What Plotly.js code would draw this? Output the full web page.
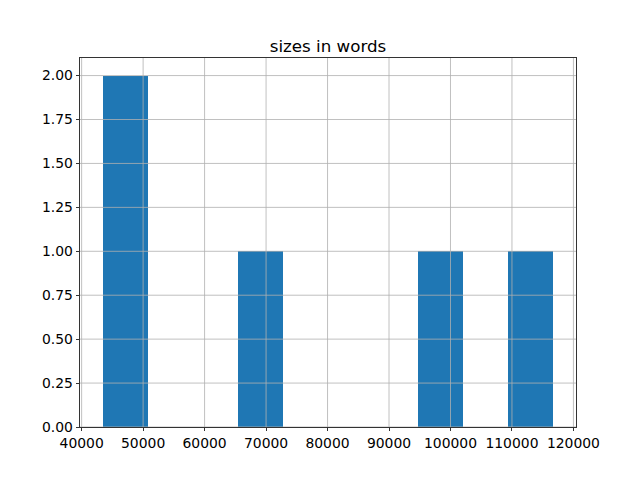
<!DOCTYPE html>
<html>
<head>
<meta charset="utf-8">
<script src="https://cdn.plot.ly/plotly-3.0.1.min.js"></script>
<style>html,body{margin:0;padding:0;background:#fff;}#chart{width:640px;height:480px;}</style>
</head>
<body>
<div id="chart"></div>
<script>
// sizes in words (5 values, estimated from histogram)
const sizesInWords = [43400, 47500, 69000, 98500, 116750];
const nBins = 10;
const chartTitle = "sizes in words";
const yTickVals = [0, 0.25, 0.5, 0.75, 1.0, 1.25, 1.5, 1.75, 2.0];
const xTickVals = [40000, 50000, 60000, 70000, 80000, 90000, 100000, 110000, 120000];

// numpy-style binning
const mn = Math.min(...sizesInWords), mx = Math.max(...sizesInWords);
const binW = (mx - mn) / nBins;
const counts = new Array(nBins).fill(0);
sizesInWords.forEach(v => {
  let i = Math.floor((v - mn) / binW);
  if (i >= nBins) i = nBins - 1;
  counts[i]++;
});
const centers = counts.map((c, i) => mn + binW * (i + 0.5));

const pad = 0.05 * (mx - mn);
const maxC = Math.max(...counts);

const axisCommon = {
  showline: true, linecolor: '#000', linewidth: 0.8, mirror: true,
  ticks: 'outside', ticklen: 3.5, tickwidth: 0.8, tickcolor: '#000',
  showgrid: false,
  zeroline: false, layer: 'above traces',
  tickfont: {family: 'DejaVu Sans', size: 13.9, color: '#000'}
};

// grid lines drawn above the bars, as matplotlib does here
const gridStyle = {color: '#b0b0b0', width: 0.8};
const shapes = [];
xTickVals.forEach(v => shapes.push({type: 'line', layer: 'above', xref: 'x', yref: 'paper',
  x0: v, x1: v, y0: 0, y1: 1, line: gridStyle}));
yTickVals.forEach(v => shapes.push({type: 'line', layer: 'above', xref: 'paper', yref: 'y',
  x0: 0, x1: 1, y0: v, y1: v, line: gridStyle}));

Plotly.newPlot('chart', [{
  type: 'bar', x: centers, y: counts, width: binW,
  marker: {color: '#1f77b4', line: {width: 0}},
  hoverinfo: 'skip'
}], {
  width: 640, height: 480,
  margin: {l: 80, r: 64, t: 57.6, b: 52.8, pad: 0},
  paper_bgcolor: '#fff', plot_bgcolor: '#fff',
  showlegend: false, bargap: 0,
  shapes: shapes,
  title: {text: chartTitle, font: {family: 'DejaVu Sans', size: 16.7, color: '#000'},
          x: 0.5, xref: 'paper', xanchor: 'center', y: 1, yref: 'paper', yanchor: 'bottom', pad: {b: 6}},
  xaxis: Object.assign({}, axisCommon, {
    range: [mn - pad, mx + pad], tickmode: 'array', tickvals: xTickVals,
    ticktext: xTickVals.map(String)
  }),
  yaxis: Object.assign({}, axisCommon, {
    range: [0, maxC * 1.05], tickmode: 'array', tickvals: yTickVals,
    ticktext: yTickVals.map(v => v.toFixed(2))
  })
}, {staticPlot: true, displayModeBar: false});
</script>
</body>
</html>
